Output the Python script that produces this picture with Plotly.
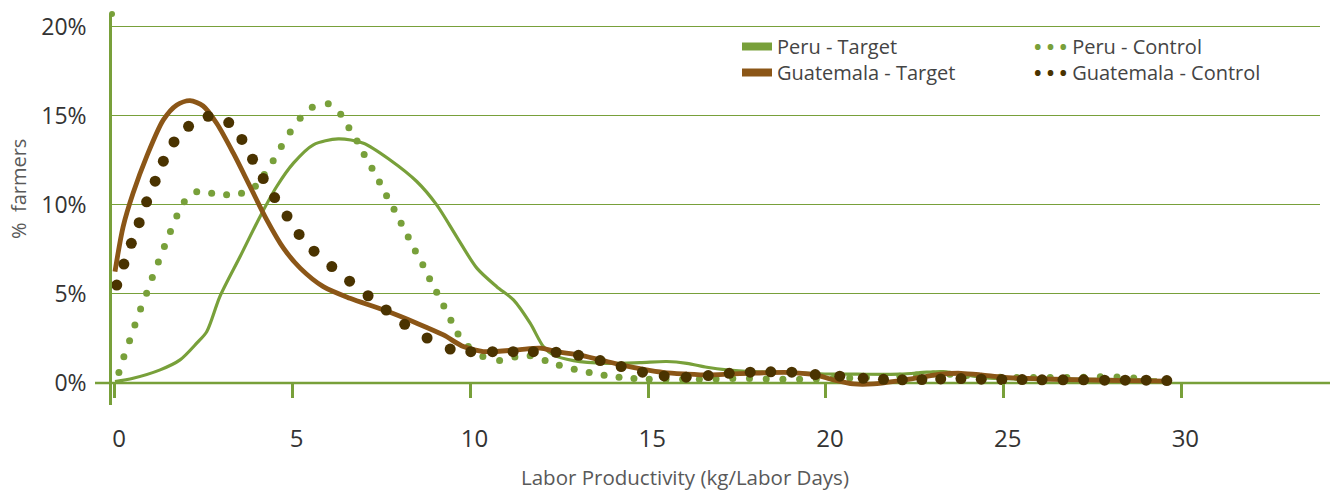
import plotly.graph_objects as go

# ---------------- data ----------------
peru_target_x = [0.0, 0.51, 1.27, 1.83, 2.30, 2.58, 2.95, 3.52, 4.08, 4.55, 5.02, 5.58, 6.28, 6.99,
                 7.74, 8.49, 9.05, 9.61, 10.18, 10.74, 11.21, 11.68, 12.05, 12.33, 12.9, 13.83,
                 14.77, 15.52, 16.09, 16.65, 17.21, 17.96, 19.09, 20.03, 20.87, 22.09, 22.84,
                 23.3, 24.62, 26.03, 27.7, 29.31]
peru_target_y = [0.07, 0.26, 0.73, 1.29, 2.23, 2.87, 4.84, 7.09, 9.33, 11.02, 12.33, 13.36, 13.69,
                 13.45, 12.51, 11.30, 9.99, 8.21, 6.44, 5.40, 4.66, 3.35, 2.04, 1.57, 1.25, 1.10,
                 1.14, 1.20, 1.10, 0.88, 0.73, 0.63, 0.58, 0.50, 0.49, 0.49, 0.60, 0.63, 0.26,
                 0.22, 0.20, 0.17]

peru_control_x = [0.11, 0.25, 0.41, 0.56, 0.72, 0.89, 1.05, 1.22, 1.39, 1.56, 1.74, 1.95, 2.30,
                  2.72, 3.14, 3.56, 3.95, 4.20, 4.45, 4.68, 4.93, 5.21, 5.55, 6.00, 6.35, 6.58,
                  6.81, 7.01, 7.23, 7.44, 7.64, 7.85, 8.05, 8.25, 8.45, 8.66, 8.85, 9.05, 9.25,
                  9.45, 9.65, 9.94, 10.35, 10.82, 11.25, 11.68, 12.10, 12.50, 12.92, 13.34,
                  13.76, 14.18, 14.60, 15.03, 15.5, 15.97, 16.44, 16.91, 17.38, 17.85, 18.32,
                  18.79, 19.26, 19.73, 20.2, 20.67, 21.14, 21.61, 22.08, 22.55, 23.02, 23.49,
                  23.96, 24.43, 24.9, 25.37, 25.84, 26.31, 26.78, 27.25, 27.72, 28.19, 28.66]
peru_control_y = [0.58, 1.47, 2.37, 3.25, 4.15, 5.03, 5.91, 6.79, 7.65, 8.49, 9.37, 10.17, 10.73,
                  10.64, 10.56, 10.64, 11.04, 11.70, 12.46, 13.27, 14.08, 14.85, 15.47, 15.66,
                  15.07, 14.32, 13.58, 12.81, 12.04, 11.27, 10.50, 9.74, 8.96, 8.19, 7.40, 6.63,
                  5.85, 5.08, 4.31, 3.52, 2.75, 2.04, 1.48, 1.25, 1.45, 1.52, 1.25, 0.99, 0.77,
                  0.58, 0.43, 0.32, 0.24, 0.21, 0.20, 0.20, 0.20, 0.22, 0.24, 0.24, 0.22, 0.20,
                  0.20, 0.22, 0.25, 0.28, 0.30, 0.33, 0.38, 0.45, 0.50, 0.48, 0.42, 0.36, 0.32,
                  0.30, 0.30, 0.30, 0.30, 0.32, 0.35, 0.33, 0.28]

guat_target_x = [0.0, 0.23, 0.51, 0.89, 1.36, 1.74, 2.11, 2.48, 2.86, 3.33, 3.80, 4.27, 4.74,
                 5.21, 5.86, 6.61, 7.55, 8.49, 9.24, 9.80, 10.36, 11.30, 11.96, 12.41, 13.04,
                 13.65, 14.24, 14.84, 15.45, 16.07, 16.69, 17.28, 17.87, 18.45, 19.04, 19.70,
                 20.21, 20.78, 21.34, 22.09, 22.70, 23.23, 23.80, 24.37, 24.95, 25.52, 26.08,
                 27.25, 28.42, 29.59]
guat_target_y = [6.25, 8.77, 10.65, 12.70, 14.76, 15.60, 15.84, 15.54, 14.57, 12.89, 11.02, 9.15,
                 7.56, 6.44, 5.40, 4.75, 4.10, 3.35, 2.69, 2.04, 1.76, 1.85, 1.95, 1.76, 1.57,
                 1.29, 1.01, 0.77, 0.58, 0.50, 0.45, 0.49, 0.54, 0.58, 0.58, 0.45, 0.17, -0.06,
                 -0.06, 0.13, 0.32, 0.49, 0.54, 0.45, 0.32, 0.26, 0.22, 0.17, 0.13, 0.10]

guat_control_x = [0.05, 0.25, 0.46, 0.68, 0.89, 1.13, 1.36, 1.66, 2.07, 2.62, 3.20, 3.57, 3.87,
                  4.17, 4.49, 4.84, 5.18, 5.60, 6.10, 6.60, 7.12, 7.63, 8.15, 8.78, 9.43, 10.01,
                  10.62, 11.20, 11.77, 12.41, 13.04, 13.65, 14.24, 14.84, 15.45, 16.07, 16.69,
                  17.28, 17.87, 18.45, 19.04, 19.70, 20.39, 21.05, 21.62, 22.15, 22.70, 23.23,
                  23.80, 24.37, 24.95, 25.52, 26.08, 26.67, 27.25, 27.84, 28.42, 29.01, 29.59]
guat_control_y = [5.49, 6.67, 7.83, 8.99, 10.16, 11.32, 12.44, 13.52, 14.40, 14.96, 14.61, 13.66,
                  12.55, 11.47, 10.40, 9.36, 8.33, 7.39, 6.53, 5.71, 4.89, 4.09, 3.29, 2.52, 1.90,
                  1.75, 1.75, 1.75, 1.75, 1.72, 1.55, 1.25, 0.92, 0.60, 0.39, 0.32, 0.41, 0.54,
                  0.60, 0.62, 0.60, 0.47, 0.38, 0.26, 0.20, 0.17, 0.19, 0.22, 0.24, 0.21, 0.19,
                  0.19, 0.17, 0.17, 0.17, 0.15, 0.15, 0.15, 0.13]

x_tick_vals = [0, 5, 10, 15, 20, 25, 30]
y_tick_vals = [0, 5, 10, 15, 20]
y_tick_text = ["0%", "5%", "10%", "15%", "20%"]

# ---------------- styling ----------------
GREEN = "#78A03A"
BROWN = "#8B5617"
DARK = "#4A3300"
FONT = "Open Sans"
X_RANGE = [-0.084, 33.9]
Y_RANGE = [-1.24, 20.7]

W, H = 1330, 492
ML, MR, MT, MB = 112, 10, 14, 87
plot_h = H - MT - MB
plot_w = W - ML - MR

fig = go.Figure()

fig.add_trace(go.Scatter(x=peru_target_x, y=peru_target_y, mode="lines",
                         line=dict(color=GREEN, width=3.2, shape="spline", smoothing=0.8),
                         showlegend=False, hoverinfo="skip"))
fig.add_trace(go.Scatter(x=peru_control_x, y=peru_control_y, mode="markers",
                         marker=dict(color=GREEN, size=7), showlegend=False, hoverinfo="skip"))
fig.add_trace(go.Scatter(x=guat_target_x, y=guat_target_y, mode="lines",
                         line=dict(color=BROWN, width=4.8, shape="spline", smoothing=0.8),
                         showlegend=False, hoverinfo="skip"))
fig.add_trace(go.Scatter(x=guat_control_x, y=guat_control_y, mode="markers",
                         marker=dict(color=DARK, size=11), showlegend=False, hoverinfo="skip"))

# legend-only entries (one legend per entry so each can be placed exactly)
fig.add_trace(go.Scatter(x=[None], y=[None], mode="lines", name="Peru - Target",
                         line=dict(color=GREEN, width=8), legend="legend"))
fig.add_trace(go.Scatter(x=[None], y=[None], mode="lines", name="Guatemala - Target",
                         line=dict(color=BROWN, width=8), legend="legend2"))
dots = '<span style="color:{c}"><b>• • •</b></span> '
fig.add_trace(go.Scatter(x=[None], y=[None], mode="markers",
                         name=dots.format(c=GREEN) + "Peru - Control",
                         marker=dict(color="rgba(0,0,0,0)", size=1), legend="legend3"))
fig.add_trace(go.Scatter(x=[None], y=[None], mode="markers",
                         name=dots.format(c=DARK) + "Guatemala - Control",
                         marker=dict(color="rgba(0,0,0,0)", size=1), legend="legend4"))

# dummy trace so the tick axis (x2) is drawn
fig.add_trace(go.Scatter(x=[None], y=[None], xaxis="x2", yaxis="y", showlegend=False,
                         hoverinfo="skip"))

axis_pos = 1 - (Y_RANGE[1] - 0) / (Y_RANGE[1] - Y_RANGE[0])  # fraction from bottom where y=0


def leg(px_x, px_top):
    return dict(x=(px_x - ML) / plot_w, y=1 - (px_top - MT) / plot_h,
                xanchor="left", yanchor="top", bgcolor="rgba(0,0,0,0)",
                font=dict(size=20, color="#444444", family=FONT), itemwidth=30)


fig.update_layout(
    width=W, height=H,
    margin=dict(l=ML, r=MR, t=MT, b=MB),
    paper_bgcolor="white", plot_bgcolor="white",
    font=dict(family=FONT, color="#333333"),
    xaxis=dict(range=X_RANGE, showgrid=False, zeroline=False, showline=False,
               showticklabels=False, ticks=""),
    xaxis2=dict(range=X_RANGE, overlaying="x", anchor="free", position=axis_pos,
                side="bottom", tickvals=x_tick_vals, ticks="outside", ticklen=14,
                tickwidth=2.5, tickcolor=GREEN, showline=False, showgrid=False,
                zeroline=False, tickfont=dict(size=24, color="#333333", family=FONT),
                ticklabelstandoff=20, ticklabelshift=4),
    yaxis=dict(range=Y_RANGE, tickvals=y_tick_vals, ticktext=y_tick_text, showgrid=True,
               gridcolor=GREEN, gridwidth=1, zeroline=False, showline=True,
               linecolor=GREEN, linewidth=2.5, ticks="",
               tickfont=dict(size=23, color="#333333", family=FONT),
               ticklabelstandoff=18),
    legend=leg(737, 27),
    legend2=leg(737, 53),
    legend3=leg(994, 27),
    legend4=leg(994, 53),
    shapes=[
        dict(type="line", xref="paper", yref="y", x0=(95 - ML) / plot_w, x1=(1330 - ML) / plot_w,
             y0=0, y1=0, line=dict(color=GREEN, width=2.5), layer="below"),
        dict(type="circle", xref="paper", yref="paper", xsizemode="pixel", ysizemode="pixel",
             xanchor=0, yanchor=1, x0=-3, x1=3, y0=-3, y1=3,
             fillcolor=GREEN, line=dict(width=0)),
    ],
    annotations=[
        dict(text="%  farmers", xref="paper", yref="paper", textangle=-90,
             x=(18 - ML) / plot_w, y=1 - (189 - MT) / plot_h, xanchor="center", yanchor="middle",
             showarrow=False, font=dict(size=20, color="#595959", family=FONT)),
        dict(text="Labor Productivity (kg/Labor Days)", xref="paper", yref="paper",
             x=(685 - ML) / plot_w, y=1 - (477 - MT) / plot_h, xanchor="center",
             yanchor="middle", showarrow=False,
             font=dict(size=20.5, color="#595959", family=FONT)),
    ],
)

fig.write_html("out.html", config={"displayModeBar": False},
               post_script="document.body.style.margin='0px';document.body.style.overflow='hidden';")
